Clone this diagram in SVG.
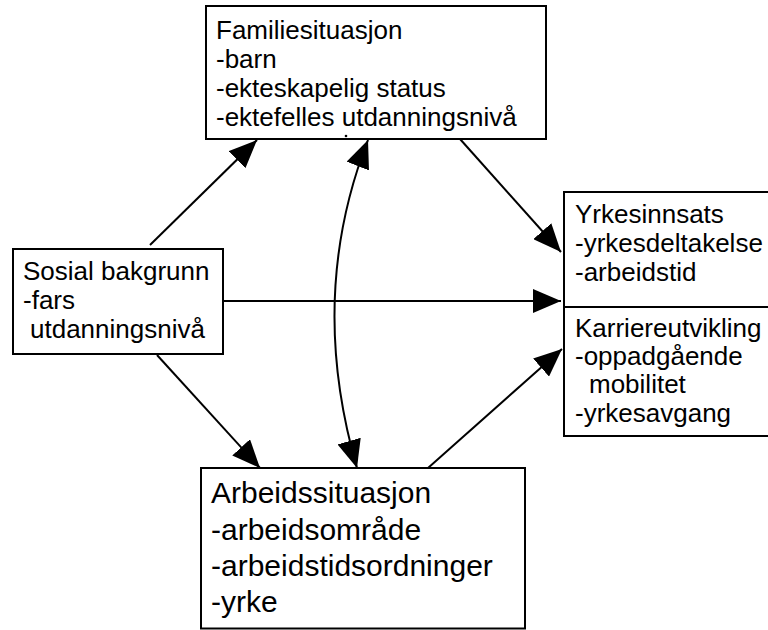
<svg xmlns="http://www.w3.org/2000/svg" width="768" height="630" viewBox="0 0 768 630">
<style>
.box{fill:#fff;stroke:#000;stroke-width:2}
.t{font-family:"Liberation Sans",Arial,sans-serif;font-size:26px;fill:#000}
.tl{font-family:"Liberation Sans",Arial,sans-serif;font-size:30px;fill:#000}
.c{fill:none;stroke:#000;stroke-width:2}
</style>
<defs>
<marker id="ah" viewBox="0 0 28 24" refX="28" refY="12" markerWidth="28" markerHeight="24" markerUnits="userSpaceOnUse" orient="auto-start-reverse">
<path d="M0,0 L28,12 L0,24 z" fill="#000"/>
</marker>
</defs>
<rect width="768" height="630" fill="#fff"/>
<g id="connectors">
<line class="c" x1="150" y1="245" x2="257" y2="140" marker-end="url(#ah)"/>
<path class="c" d="M368,140 Q307,296 357,468" marker-start="url(#ah)" marker-end="url(#ah)"/>
<line class="c" x1="460" y1="139" x2="561" y2="252" marker-end="url(#ah)"/>
<line class="c" x1="223" y1="301" x2="561" y2="301" marker-end="url(#ah)"/>
<line class="c" x1="157" y1="355" x2="260" y2="468" marker-end="url(#ah)"/>
<line class="c" x1="428" y1="468" x2="562" y2="349" marker-end="url(#ah)"/>
</g>
<g id="familiesituasjon">
<rect class="box" x="206" y="6" width="340" height="133"/>
<text class="t" x="216" y="39">Familiesituasjon</text>
<text class="t" x="216" y="68">-barn</text>
<text class="t" x="216" y="97">-ekteskapelig status</text>
<text class="t" x="216" y="126">-ektefelles utdanningsnivå</text>
<circle cx="346" cy="136" r="1.3" fill="#000"/>
</g>
<g id="sosial">
<rect class="box" x="13" y="249" width="210" height="105"/>
<text class="t" x="23" y="280">Sosial bakgrunn</text>
<text class="t" x="23" y="309">-fars</text>
<text class="t" x="30" y="338">utdanningsnivå</text>
</g>
<g id="yrke">
<rect class="box" x="564" y="192" width="210" height="244"/>
<line x1="564" y1="307" x2="770" y2="307" stroke="#000" stroke-width="2"/>
<text class="t" x="575" y="223">Yrkesinnsats</text>
<text class="t" x="575" y="252">-yrkesdeltakelse</text>
<text class="t" x="575" y="281">-arbeidstid</text>
<text class="t" x="575" y="337">Karriereutvikling</text>
<text class="t" x="575" y="365">-oppadgående</text>
<text class="t" x="589" y="393">mobilitet</text>
<text class="t" x="575" y="422">-yrkesavgang</text>
</g>
<g id="arbeid">
<rect class="box" x="201" y="468" width="324" height="160.5"/>
<text class="tl" x="211" y="503">Arbeidssituasjon</text>
<text class="tl" x="211" y="540">-arbeidsområde</text>
<text class="tl" x="211" y="576">-arbeidstidsordninger</text>
<text class="tl" x="211" y="612">-yrke</text>
</g>
</svg>
